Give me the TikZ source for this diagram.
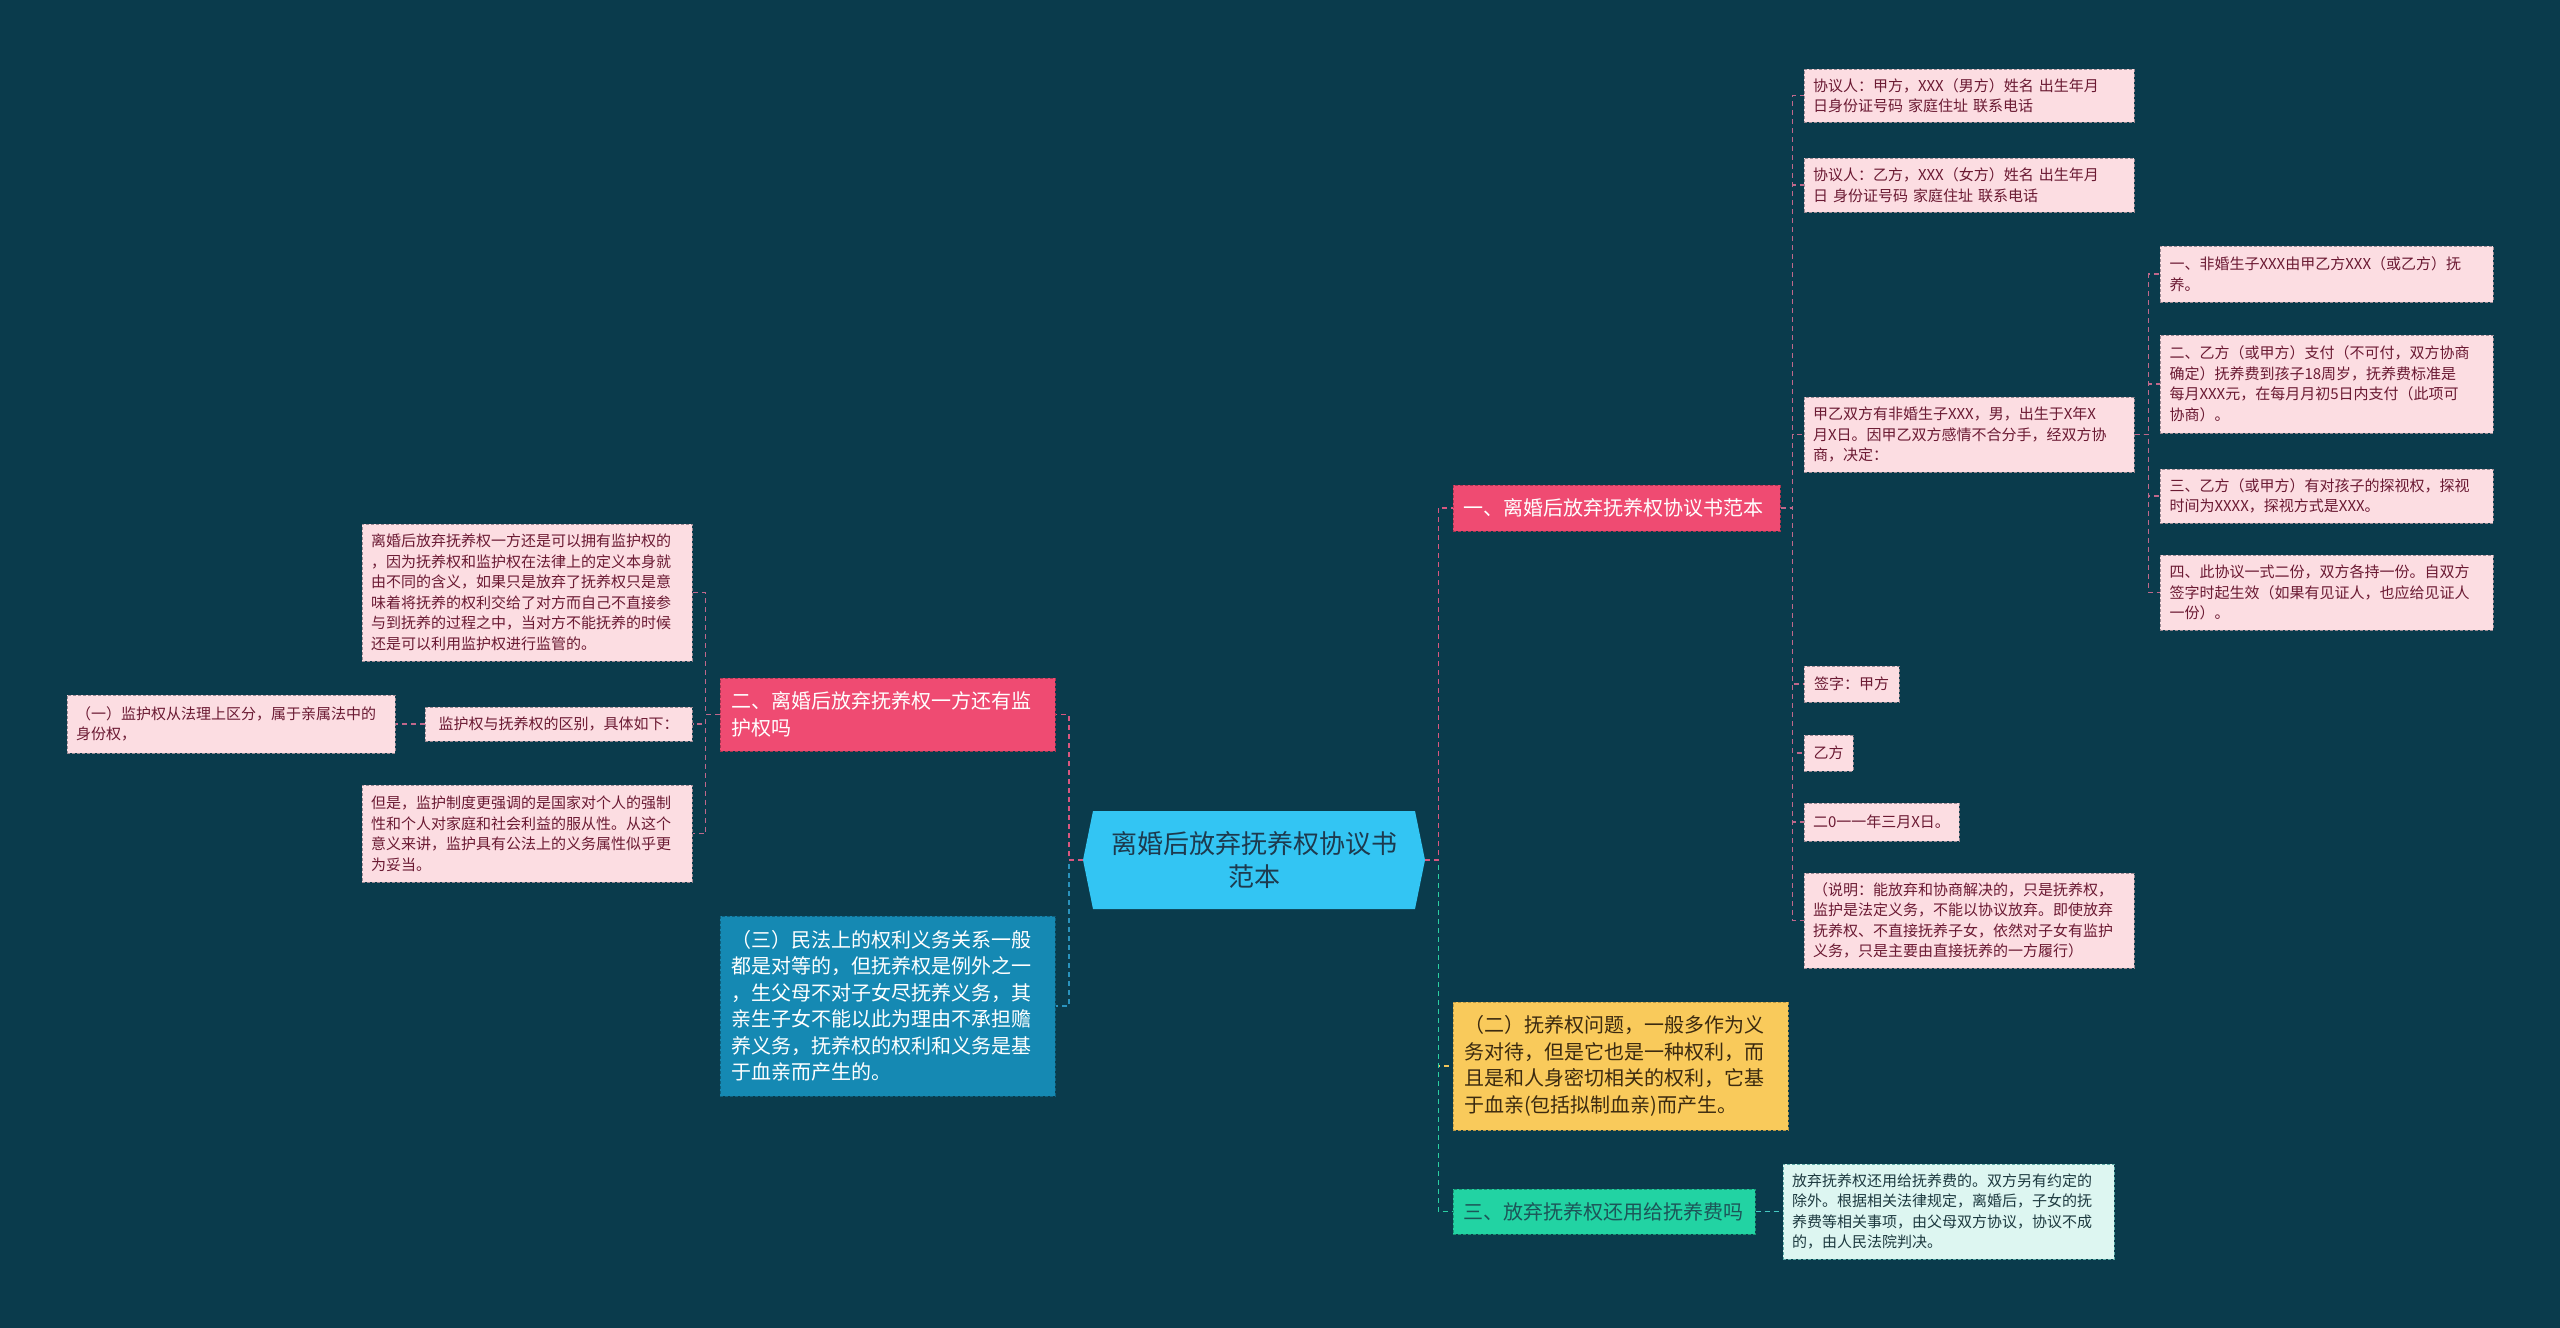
\documentclass[tikz,border=0pt]{standalone}
\usepackage{fontspec}
\setmainfont{Noto Sans CJK SC}
\usepackage{tikz}

\definecolor{bgcol}{HTML}{0A3B4C}
\definecolor{rootfill}{HTML}{33C5F3}
\definecolor{roottext}{HTML}{1D3A4E}
\definecolor{redfill}{HTML}{EF4B72}
\definecolor{yellowfill}{HTML}{F9CA5B}
\definecolor{yellowtext}{HTML}{3B2A10}
\definecolor{greenfill}{HTML}{22D3A3}
\definecolor{greentext}{HTML}{1C5558}
\definecolor{bluefill}{HTML}{1589B3}
\definecolor{leaffill}{HTML}{FCDDE2}
\definecolor{leaftext}{HTML}{6B1A33}
\definecolor{leafline}{HTML}{9C8A93}
\definecolor{mintfill}{HTML}{DDF6F1}
\definecolor{minttext}{HTML}{1E3A40}
\definecolor{redline}{HTML}{D9577F}
\definecolor{pinkline}{HTML}{C0688B}
\definecolor{yellowline}{HTML}{F0C45A}
\definecolor{greenline}{HTML}{2BCFA2}
\definecolor{blueline}{HTML}{2A93BD}
\definecolor{mintline}{HTML}{45C9C2}

\begin{document}
\begin{tikzpicture}[x=1pt, y=-1pt,
    box/.style={draw, dash pattern=on 3pt off 2pt, line width=1pt, inner sep=0pt, align=left},
    leaf/.style={box, draw=leafline, fill=leaffill, text=leaftext, font=\fontsize{15}{20.5}\selectfont},
    note/.style={leaf, minimum width=330, text width=312},
    term/.style={leaf, minimum width=333, text width=314},
    topic/.style={box, font=\fontsize{20}{26.5}\selectfont, minimum width=335, text width=313},
    link/.style={line width=1.4pt, dash pattern=on 5pt off 4pt}
]

% background and frame
\fill[bgcol] (0,0) rectangle (2560,1328);
\useasboundingbox (0,0) rectangle (2560,1328);

% Root
\fill[rootfill] (1093,811) -- (1415,811) -- (1425,860) -- (1415,909) -- (1093,909) -- (1083,860) -- cycle;
\node[minimum width=342, minimum height=98, inner sep=0pt, align=center, text=roottext,
      font=\fontsize{26}{33}\selectfont] (root) at (1254,860) {离婚后放弃抚养权协议书\\范本};

% Right side topics
\node[topic, draw=redfill!70!black, fill=redfill, text=white, minimum width=327, text width=307,
      minimum height=46] (main1) at (1616.5,508) {一、离婚后放弃抚养权协议书范本};
\node[topic, draw=yellowfill!75!black, fill=yellowfill, text=yellowtext,
      minimum height=128] (main2) at (1620.5,1066)
    {（二）抚养权问题，一般多作为义\\务对待，但是它也是一种权利，而\\且是和人身密切相关的权利，它基\\于血亲(包括拟制血亲)而产生。};
\node[topic, draw=greenfill!70!black, fill=greenfill, text=greentext, minimum width=302, text width=282,
      minimum height=45] (main3) at (1604,1211.5) {三、放弃抚养权还用给抚养费吗};

% Left side topics
\node[topic, draw=redfill!70!black, fill=redfill, text=white,
      minimum height=73] (left1) at (887.5,714.5) {二、离婚后放弃抚养权一方还有监\\护权吗};
\node[topic, draw=bluefill!70!black, fill=bluefill, text=white,
      minimum height=180] (left2) at (887.5,1006)
    {（三）民法上的权利义务关系一般\\都是对等的，但抚养权是例外之一\\，生父母不对子女尽抚养义务，其\\亲生子女不能以此为理由不承担赡\\养义务，抚养权的权利和义务是基\\于血亲而产生的。};

% Agreement details
\node[note, minimum height=53] (agreeA) at (1969,95.5)
    {协议人：甲方，XXX（男方）姓名 出生年月\\日身份证号码 家庭住址 联系电话};
\node[note, minimum height=54] (agreeB) at (1969,185)
    {协议人：乙方，XXX（女方）姓名 出生年月\\日 身份证号码 家庭住址 联系电话};
\node[note, minimum height=75] (facts) at (1969,434.5)
    {甲乙双方有非婚生子XXX，男，出生于X年X\\月X日。因甲乙双方感情不合分手，经双方协\\商，决定：};
\node[leaf, minimum width=95, minimum height=36] (signA) at (1851.5,684) {签字：甲方};
\node[leaf, minimum width=49, minimum height=36] (signB) at (1828.5,753) {乙方};
\node[leaf, minimum width=155, minimum height=38] (sdate) at (1881.5,822) {二0一一年三月X日。};
\node[note, minimum height=95] (remark) at (1969,920.5)
    {（说明：能放弃和协商解决的，只是抚养权，\\监护是法定义务，不能以协议放弃。即使放弃\\抚养权、不直接抚养子女，依然对子女有监护\\义务，只是主要由直接抚养的一方履行）};

% Terms decided
\node[term, minimum height=56] (termA) at (2326.5,274)
    {一、非婚生子XXX由甲乙方XXX（或乙方）抚\\养。};
\node[term, minimum height=98] (termB) at (2326.5,384)
    {二、乙方（或甲方）支付（不可付，双方协商\\确定）抚养费到孩子18周岁，抚养费标准是\\每月XXX元，在每月月初5日内支付（此项可\\协商）。};
\node[term, minimum height=54] (termC) at (2326.5,496)
    {三、乙方（或甲方）有对孩子的探视权，探视\\时间为XXXX，探视方式是XXX。};
\node[term, minimum height=75] (termD) at (2326.5,592.5)
    {四、此协议一式二份，双方各持一份。自双方\\签字时起生效（如果有见证人，也应给见证人\\一份）。};

% Fee
\node[leaf, draw=mintline!60!gray, fill=mintfill, text=minttext, minimum width=331, text width=313,
      minimum height=95] (fee) at (1948.5,1211.5)
    {放弃抚养权还用给抚养费的。双方另有约定的\\除外。根据相关法律规定，离婚后，子女的抚\\养费等相关事项，由父母双方协议，协议不成\\的，由人民法院判决。};

% Guardianship
\node[note, minimum height=137] (guard) at (527,592.5)
    {离婚后放弃抚养权一方还是可以拥有监护权的\\，因为抚养权和监护权在法律上的定义本身就\\由不同的含义，如果只是放弃了抚养权只是意\\味着将抚养的权利交给了对方而自己不直接参\\与到抚养的过程之中，当对方不能抚养的时候\\还是可以利用监护权进行监管的。};
\node[leaf, minimum width=267, minimum height=34] (diff) at (558.5,724) {监护权与抚养权的区别，具体如下：};
\node[leaf, minimum width=328, text width=310, minimum height=58] (diffA) at (231,724)
    {（一）监护权从法理上区分，属于亲属法中的\\身份权，};
\node[note, minimum height=97] (duty) at (527,833.5)
    {但是，监护制度更强调的是国家对个人的强制\\性和个人对家庭和社会利益的服从性。从这个\\意义来讲，监护具有公法上的义务属性似乎更\\为妥当。};

% Connectors from the root
\draw[link, yellowline] (root.east) -- ++(13,0) |- (main2.west);
\draw[link, greenline] (root.east) -- ++(13,0) |- (main3.west);
\draw[link, redline] (root.east) -- ++(13,0) |- (main1.west);
\draw[link, blueline] (root.west) -- ++(-14,0) |- (left2.east);
\draw[link, redline] (root.west) -- ++(-14,0) |- (left1.east);

% Connectors to the leaves
\foreach \n in {agreeA,agreeB,facts,signA,signB,sdate,remark}
    \draw[link, pinkline] (main1.east) -- ++(12,0) |- (\n.west);
\foreach \n in {termA,termB,termC,termD}
    \draw[link, pinkline] (facts.east) -- ++(14,0) |- (\n.west);
\foreach \n in {guard,diff,duty}
    \draw[link, pinkline] (left1.west) -- ++(-14,0) |- (\n.east);
\draw[link, pinkline] (diff.west) -- (diffA.east);
\draw[link, mintline] (main3.east) -- (fee.west);

\end{tikzpicture}
\end{document}
